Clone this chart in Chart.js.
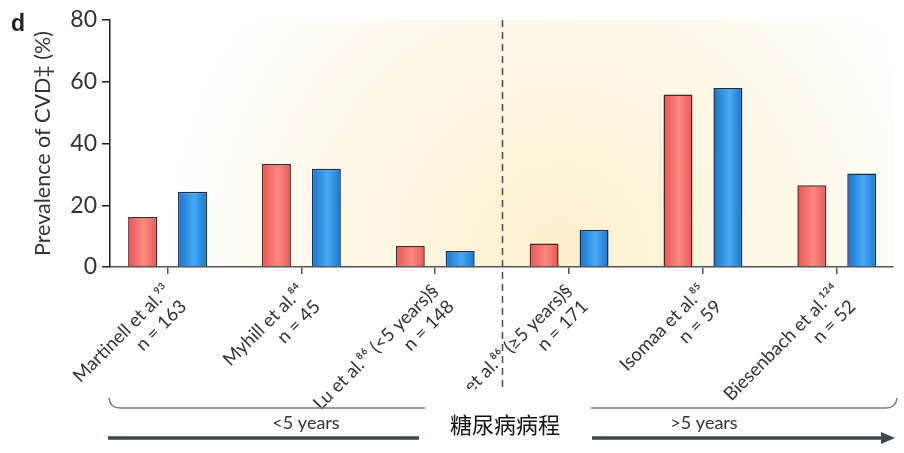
<!DOCTYPE html>
<html>
<head>
<meta charset="utf-8">
<script src="https://cdn.jsdelivr.net/npm/chart.js@4/dist/chart.umd.min.js"></script>
<style>
  html, body { margin: 0; padding: 0; background: #fff; }
  #wrap { width: 904px; height: 453px; position: relative; }
</style>
</head>
<body>
<div id="wrap"><canvas id="c"></canvas></div>
<script>
// ---- data ----
const studies = [
  ["Martinell et al.\u2079\u00b3", "n = 163"],
  ["Myhill et al.\u2078\u2074", "n = 45"],
  ["Lu et al.\u2078\u2076 (<5 years)\u00a7", "n = 148"],
  ["Lu et al.\u2078\u2076 (\u22655 years)\u00a7", "n = 171"],
  ["Isomaa et al.\u2078\u2075", "n = 59"],
  ["Biesenbach et al.\u00b9\u00b2\u2074", "n = 52"]
];
const redValues  = [16.2, 33.4, 6.8, 7.6, 55.9, 26.5];
const blueValues = [24.4, 31.8, 5.2, 12.0, 58.0, 30.3];
const yTicks = [0, 20, 40, 60, 80];
const yTitle = "Prevalence of CVD\u2021 (%)";
const groupLeft = "<5 years";
const groupRight = ">5 years";
const durationLabel = "糖尿病病程";
const dividerAt = 2.5;

const FONT = "Lato";

const bgPlugin = {
  id: 'bg',
  beforeDatasetsDraw(chart) {
    const {ctx, chartArea: a} = chart;
    ctx.save();
    const g = ctx.createRadialGradient(560, 250, 0, 560, 250, 420);
    g.addColorStop(0, '#fcf0cc');
    g.addColorStop(0.4, '#fdf6e2');
    g.addColorStop(1, '#ffffff');
    ctx.fillStyle = g;
    ctx.fillRect(a.left + 1, a.top, a.right - a.left, a.bottom - a.top - 1);
    ctx.restore();
    // bar gradients (one options object per bar)
    chart.data.datasets.forEach((ds, di) => {
      const meta = chart.getDatasetMeta(di);
      meta.data.forEach(el => {
        const l = el.x - el.width / 2, r = el.x + el.width / 2;
        const gr = ctx.createLinearGradient(l, 0, r, 0);
        if (di === 0) {
          gr.addColorStop(0, '#e85454');
          gr.addColorStop(0.55, '#fc8a7e');
          gr.addColorStop(1, '#e65856');
        } else {
          gr.addColorStop(0, '#1a72cc');
          gr.addColorStop(0.55, '#48aaf3');
          gr.addColorStop(1, '#1b74cd');
        }
        const o = {};
        for (const k in el.options) o[k] = el.options[k];
        o.backgroundColor = gr;
        el.options = o;
      });
    });
  },
  afterDraw(chart) {
    const {ctx} = chart;
    const xs = chart.scales.x;
    ctx.save();
    // dashed divider
    const dx = Math.round(xs.getPixelForValue(dividerAt)) + 0.5;
    ctx.strokeStyle = '#4a4a4a';
    ctx.lineWidth = 1.5;
    ctx.setLineDash([7, 5]);
    ctx.beginPath();
    ctx.moveTo(dx, 20);
    ctx.lineTo(dx, 392);
    ctx.stroke();
    ctx.setLineDash([]);
    // white box
    ctx.fillStyle = '#ffffff';
    ctx.fillRect(420, 389, 170, 64);
    // bracket
    ctx.strokeStyle = '#7a7a7a';
    ctx.lineWidth = 1.5;
    ctx.beginPath();
    ctx.moveTo(109, 398);
    ctx.quadraticCurveTo(110, 408, 120, 408);
    ctx.lineTo(425, 408);
    ctx.stroke();
    ctx.beginPath();
    ctx.moveTo(591, 408);
    ctx.lineTo(886, 408);
    ctx.quadraticCurveTo(896, 408, 897, 398);
    ctx.stroke();
    // arrow
    ctx.strokeStyle = '#3d4954';
    ctx.fillStyle = '#3d4954';
    ctx.lineWidth = 3.5;
    ctx.beginPath();
    ctx.moveTo(108, 438);
    ctx.lineTo(419, 438);
    ctx.moveTo(592, 438);
    ctx.lineTo(884, 438);
    ctx.stroke();
    ctx.beginPath();
    ctx.moveTo(895, 438);
    ctx.lineTo(881, 432);
    ctx.lineTo(881, 444);
    ctx.closePath();
    ctx.fill();
    // texts
    ctx.fillStyle = '#333';
    ctx.textAlign = 'center';
    ctx.textBaseline = 'middle';
    ctx.font = `18px "${FONT}"`;
    ctx.fillText(groupLeft, 306, 423);
    ctx.fillText(groupRight, 704, 423);
    ctx.fillStyle = '#111';
    ctx.font = '22px "Noto Sans CJK SC"';
    ctx.fillText(durationLabel, 505, 425);
    // panel letter
    ctx.fillStyle = '#222';
    ctx.textAlign = 'left';
    ctx.textBaseline = 'alphabetic';
    ctx.font = 'bold 23px "Liberation Sans"';
    ctx.fillText('d', 11, 31);
    ctx.restore();
  }
};

new Chart(document.getElementById('c'), {
  type: 'bar',
  data: {
    datasets: [
      {
        data: redValues.map((v, i) => ({x: i, y: v})),
        backgroundColor: '#f07a72',
        borderColor: '#4a2424',
        borderWidth: 1.5,
        borderSkipped: 'start'
      },
      {
        data: blueValues.map((v, i) => ({x: i, y: v})),
        backgroundColor: '#2f90e6',
        borderColor: '#142c4a',
        borderWidth: 1.5,
        borderSkipped: 'start'
      }
    ]
  },
  options: {
    responsive: true,
    maintainAspectRatio: false,
    animation: false,
    events: [],
    categoryPercentage: 0.746,
    barPercentage: 0.58,
    layout: { padding: { left: 0, right: 11, top: 20, bottom: 0 } },
    plugins: { legend: { display: false }, tooltip: { enabled: false } },
    scales: {
      x: {
        type: 'linear',
        offset: false,
        min: -0.43,
        max: 5.42,
        afterFit(s) { s.height = 186; },
        afterBuildTicks(s) { s.ticks = studies.map((_, i) => ({value: i})); },
        ticks: {
          stepSize: 1,
          includeBounds: false,
          autoSkip: false,
          minRotation: 45,
          maxRotation: 45,
          padding: 6,
          color: '#333',
          font: { family: FONT, size: 18.5 },
          callback: (v) => studies[v] || ''
        },
        grid: { display: true, offset: false, drawOnChartArea: false, drawTicks: true, tickLength: 7, color: '#555', lineWidth: 1.5 },
        border: { display: true, color: '#555', width: 1.5 }
      },
      y: {
        min: 0,
        max: 80,
        afterFit(s) { s.width = 110; },
        afterBuildTicks(s) { s.ticks = yTicks.map(v => ({value: v})); },
        ticks: {
          color: '#333',
          padding: 5,
          font: { family: FONT, size: 23 }
        },
        grid: { display: true, drawOnChartArea: false, drawTicks: true, tickLength: 8, color: '#222', lineWidth: 1.5 },
        border: { display: true, color: '#222', width: 1.5 },
        title: {
          display: true,
          text: yTitle,
          color: '#333',
          font: { family: FONT, size: 21.5 },
          padding: { top: 30, bottom: 0 }
        }
      }
    }
  },
  plugins: [bgPlugin]
});
</script>
</body>
</html>
